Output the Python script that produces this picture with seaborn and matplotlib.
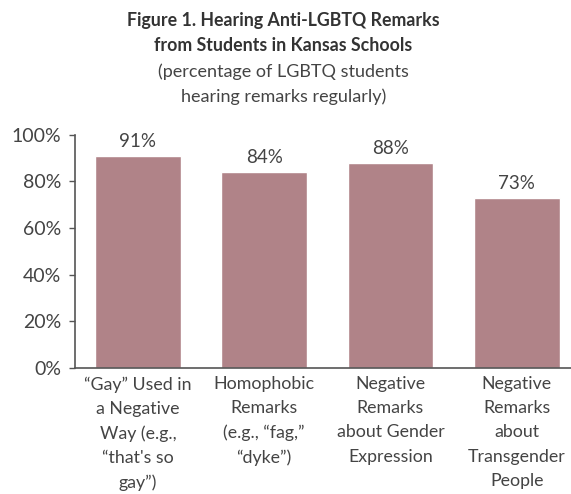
import matplotlib.pyplot as plt
import seaborn as sns
import pandas as pd
import numpy as np
from matplotlib.ticker import FixedLocator

categories = [
    "\u201cGay\u201d Used in\na Negative\nWay (e.g.,\n\u201cthat's so\ngay\u201d)",
    "Homophobic\nRemarks\n(e.g., \u201cfag,\u201d\n\u201cdyke\u201d)",
    "Negative\nRemarks\nabout Gender\nExpression",
    "Negative\nRemarks\nabout\nTransgender\nPeople",
]
values = [91, 84, 88, 73]
yticks = [0, 20, 40, 60, 80, 100]

bar_color = "#b08388"
text_color = "#444444"
axis_color = "#555555"

sns.set_style("white")
plt.rcParams["font.family"] = ["Lato", "DejaVu Sans"]

df = pd.DataFrame({"cat": categories, "val": values})

fig = plt.figure(figsize=(5.71, 4.94), dpi=100)
ax = fig.add_axes([0.131, 0.255, 0.869, 0.472])

sns.barplot(data=df, x="cat", y="val", color=bar_color, width=0.68,
            saturation=1, ax=ax)

for i, v in enumerate(values):
    ax.text(i, v + 2.5, f"{v}%", ha="center", va="bottom",
            fontsize=13.5, color=text_color)

ax.set_ylim(0, 100)
ax.set_xlim(-0.5, 3.43)
ax.set_yticks(yticks)
ax.set_yticklabels([f"{y}%" for y in yticks], fontsize=14, color=text_color)
ax.set_xticks(range(len(categories)))
ax.set_xticklabels(categories, fontsize=12.8, color=text_color, linespacing=1.62)
ax.xaxis.set_minor_locator(FixedLocator([0.5, 1.5, 2.5]))
ax.tick_params(axis="x", which="major", length=0, pad=6)
ax.tick_params(axis="x", which="minor", length=4, direction="inout",
               color=axis_color, width=1)
ax.tick_params(axis="y", length=4, direction="out", color=axis_color,
               width=1, pad=6, left=True)
ax.set_xlabel("")
ax.set_ylabel("")

for s in ["top", "right"]:
    ax.spines[s].set_visible(False)
for s in ["left", "bottom"]:
    ax.spines[s].set_color(axis_color)
    ax.spines[s].set_linewidth(1.2)

fig.text(0.496, 0.958, "Figure 1. Hearing Anti-LGBTQ Remarks", ha="center",
         va="center", fontsize=12.8, fontweight="bold", color="#333333")
fig.text(0.496, 0.907, "from Students in Kansas Schools", ha="center",
         va="center", fontsize=12.8, fontweight="bold", color="#333333")
fig.text(0.496, 0.855, "(percentage of LGBTQ students", ha="center",
         va="center", fontsize=13, color=text_color)
fig.text(0.496, 0.804, "hearing remarks regularly)", ha="center",
         va="center", fontsize=13, color=text_color)

fig.savefig("out.png", dpi=100)
